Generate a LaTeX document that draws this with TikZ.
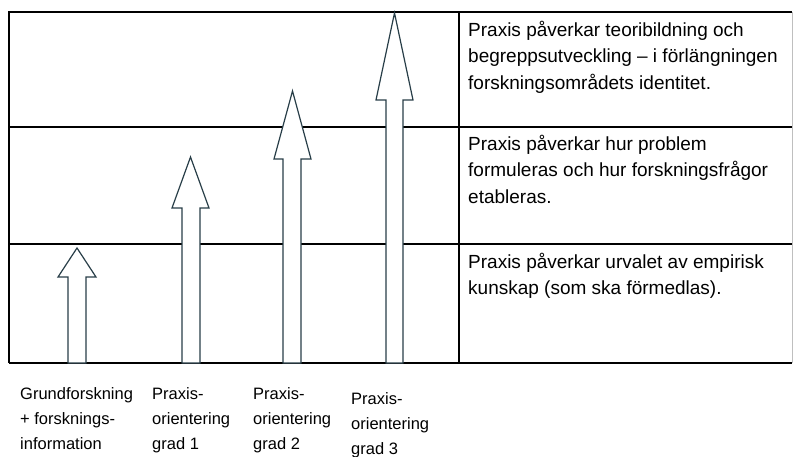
\documentclass[tikz,border=0pt]{standalone}
\usepackage{fontspec}
\setmainfont{Liberation Sans}
\definecolor{arrowline}{RGB}{40,62,72}

\begin{document}
\begin{tikzpicture}[x=1pt,y=-1pt]
\tikzset{grid/.style = {line width=1.3pt, black}}
\tikzset{blockarrow/.style = {draw=arrowline, line width=1.2pt, fill=white, line join=miter}}
% base anchor of a multi-line node sits on its last line
\tikzset{rowtext/.style = {anchor=base west, align=left, inner sep=0pt, font=\fontsize{19}{26.7}\selectfont}}
\tikzset{gradtext/.style = {anchor=base west, align=left, inner sep=0pt, font=\fontsize{16.5}{25}\selectfont}}

\useasboundingbox (0,0) rectangle (795,456);

%table
\coordinate (tl) at (9,12);
\coordinate (tr) at (792,12);
\coordinate (bl) at (9,363);
\coordinate (br) at (792,363);
\coordinate (r1l) at (9,127);
\coordinate (r1r) at (792,127);
\coordinate (r2l) at (9,244);
\coordinate (r2r) at (792,244);
\coordinate (ct) at (459,12);
\coordinate (cb) at (459,363);

\draw[grid] (bl) -- (tl) -- (tr);
\draw[grid] (bl) -- (br);
\draw[grid] (r1l) -- (r1r);
\draw[grid] (r2l) -- (r2r);
\draw[grid] (ct) -- (cb);
\draw[line width=0.6pt, black!25] (tr) -- (br);

%arrows
\draw[blockarrow] (68,363) -- (68,277) -- (58,277) -- (77,248) -- (96,277) -- (86,277) -- (86,363) -- cycle;
\draw[blockarrow] (182,363) -- (182,208) -- (172,208) -- (190.5,157) -- (209,208) -- (200,208) -- (200,363) -- cycle;
\draw[blockarrow] (283,363) -- (283,159) -- (274,159) -- (292.5,91) -- (311,159) -- (301,159) -- (301,363) -- cycle;
\draw[blockarrow] (386,363) -- (386,100) -- (376,100) -- (394.5,13) -- (413,100) -- (403,100) -- (403,363) -- cycle;

%row texts
\node[rowtext] (top) at (468,89.4) {Praxis påverkar teoribildning och\\begreppsutveckling -- i förlängningen\\forskningsområdets identitet.};
\node[rowtext] (mid) at (468,203.4) {Praxis påverkar hur problem\\formuleras och hur forskningsfrågor\\etableras.};
\node[rowtext] (low) at (468,294.7) {Praxis påverkar urvalet av empirisk\\kunskap (som ska förmedlas).};

%labels under the arrows
\node[gradtext] (g0) at (20,449) {Grundforskning\\+ forsknings-\\information};
\node[gradtext] (g1) at (152,449) {Praxis-\\orientering\\grad 1};
\node[gradtext] (g2) at (253,449) {Praxis-\\orientering\\grad 2};
\node[gradtext] (g3) at (351,454) {Praxis-\\orientering\\grad 3};

\end{tikzpicture}
\end{document}
